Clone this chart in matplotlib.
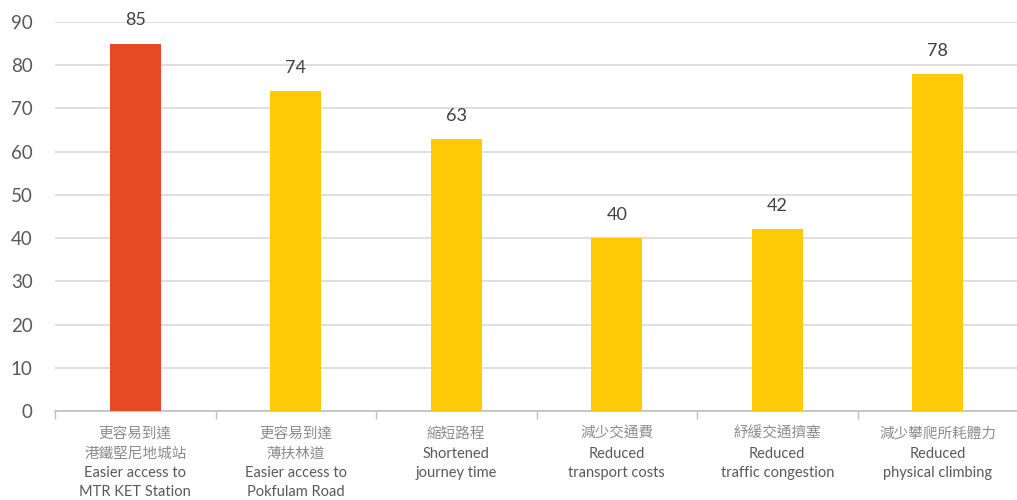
import matplotlib
matplotlib.use("Agg")
import matplotlib.pyplot as plt
import numpy as np

labels_zh = [
    ["更容易到達", "港鐵堅尼地城站"],
    ["更容易到達", "薄扶林道"],
    ["縮短路程"],
    ["減少交通費"],
    ["紓緩交通擠塞"],
    ["減少攀爬所耗體力"],
]
labels_en = [
    ["Easier access to", "MTR KET Station"],
    ["Easier access to", "Pokfulam Road"],
    ["Shortened", "journey time"],
    ["Reduced", "transport costs"],
    ["Reduced", "traffic congestion"],
    ["Reduced", "physical climbing"],
]
values = [85, 74, 63, 40, 42, 78]
colors = ["#e64a24", "#ffcb08", "#ffcb08", "#ffcb08", "#ffcb08", "#ffcb08"]

latin = ["Lato", "DejaVu Sans"]
cjk = ["Noto Sans CJK TC", "DejaVu Sans"]

fig = plt.figure(figsize=(10.17, 5.0), dpi=100)
ax = fig.add_axes([55 / 1017, 1 - 411 / 500, 963 / 1017, 389 / 500])

x = np.arange(len(values))
ax.bar(x, values, width=0.32, color=colors, zorder=3)
for xi, v in zip(x, values):
    ax.text(xi, v + 3.5, str(v), ha="center", va="bottom", fontsize=13,
            color="#404040", family=latin, clip_on=False)

ax.set_xlim(-0.5, len(values) - 0.5)
ax.set_ylim(0, 90)
ax.set_yticks(range(0, 91, 10))
ax.yaxis.grid(True, color="#d9d9d9", linewidth=1.2, zorder=0)
ax.tick_params(axis="y", length=0, labelsize=13.5, labelcolor="#595959", pad=16)
for t in ax.get_yticklabels():
    t.set_family(latin)

# category boundary ticks on the bottom axis
ax.set_xticks(np.arange(-0.5, len(values), 1.0))
ax.set_xticklabels([])
ax.tick_params(axis="x", length=6, width=1, color="#bfbfbf")
for s in ["top", "right", "left"]:
    ax.spines[s].set_visible(False)
ax.spines["bottom"].set_color("#bfbfbf")
ax.spines["bottom"].set_linewidth(1.2)

trans = ax.get_xaxis_transform()
line_h = 19.5 / 389  # in axes fraction
for xi, zh, en in zip(x, labels_zh, labels_en):
    y = -23 / 389
    for s in zh:
        ax.text(xi, y, s, transform=trans, ha="center", va="center",
                fontsize=10.5, color="#8c8c8c", family=cjk, clip_on=False)
        y -= line_h
    for s in en:
        ax.text(xi, y, s, transform=trans, ha="center", va="center",
                fontsize=10.5, color="#595959", family=latin, clip_on=False)
        y -= line_h

fig.savefig("out.png", dpi=100)
